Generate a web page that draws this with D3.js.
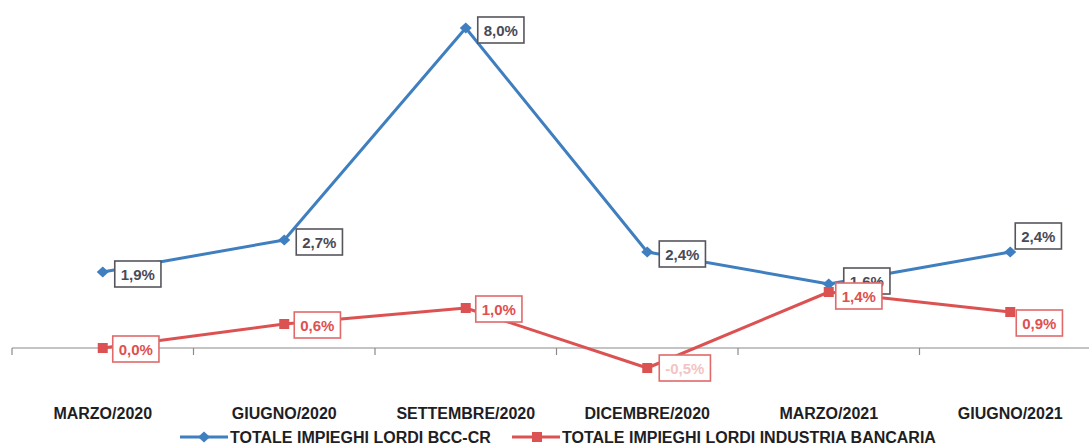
<!DOCTYPE html>
<html><head><meta charset="utf-8">
<script src="https://cdn.jsdelivr.net/npm/d3@7/dist/d3.min.js"></script>
<style>
html,body{margin:0;padding:0;background:#fff;}
svg{display:block;}
text{font-family:"Liberation Sans",Arial,sans-serif;font-weight:bold;}
</style></head>
<body>
<svg id="c" width="1089" height="448"></svg>
<script>
const categories = ["MARZO/2020","GIUGNO/2020","SETTEMBRE/2020","DICEMBRE/2020","MARZO/2021","GIUGNO/2021"];
const bccValues = [1.9, 2.7, 8.0, 2.4, 1.6, 2.4];
const industriaValues = [0.0, 0.6, 1.0, -0.5, 1.4, 0.9];
const seriesNames = ["TOTALE IMPIEGHI LORDI BCC-CR", "TOTALE IMPIEGHI LORDI INDUSTRIA BANCARIA"];

const fmt = v => v.toFixed(1).replace(".", ",") + "%";
const svg = d3.select("#c");
const W = 1089;

const x = d3.scaleBand().domain(categories).range([12, 1101]).padding(0);
const cx = c => x(c) + x.bandwidth() / 2;
const y = d3.scaleLinear().domain([-1, 8.5]).range([388, 8]);

const blue = "#3f7fbf", red = "#dc5252";

// axis line at zero
const y0 = y(0);
svg.append("line").attr("x1", 12).attr("x2", W).attr("y1", y0).attr("y2", y0)
  .attr("stroke", "#8a8a8a").attr("stroke-width", 1.2);
categories.forEach(c => {
  svg.append("line").attr("x1", x(c)).attr("x2", x(c)).attr("y1", y0).attr("y2", y0 + 7)
    .attr("stroke", "#8a8a8a").attr("stroke-width", 1.2);
});

// category labels
svg.selectAll("text.cat").data(categories).enter().append("text")
  .attr("class", "cat").attr("x", d => cx(d)).attr("y", 419)
  .attr("text-anchor", "middle").attr("font-size", 16).attr("fill", "#1e1e24")
  .text(d => d);

const line = d3.line().x((d, i) => cx(categories[i])).y(d => y(d));

// blue line
svg.append("path").datum(bccValues).attr("d", line).attr("fill", "none")
  .attr("stroke", blue).attr("stroke-width", 3).attr("stroke-linejoin", "round");
// red line
svg.append("path").datum(industriaValues).attr("d", line).attr("fill", "none")
  .attr("stroke", red).attr("stroke-width", 3).attr("stroke-linejoin", "round");

// markers
const diamond = "M0,-5.5L6,0L0,5.5L-6,0Z";
svg.selectAll("path.bm").data(bccValues).enter().append("path").attr("class", "bm")
  .attr("d", diamond).attr("fill", blue)
  .attr("transform", (d, i) => `translate(${cx(categories[i])},${y(d)})`);
svg.selectAll("rect.rm").data(industriaValues).enter().append("rect").attr("class", "rm")
  .attr("width", 10).attr("height", 10).attr("fill", red)
  .attr("x", (d, i) => cx(categories[i]) - 5).attr("y", d => y(d) - 5);

// data labels
function drawLabels(values, stroke, textFill, place) {
  values.forEach((v, i) => {
    const px = cx(categories[i]), py = y(v);
    const p = place(i);
    const g = svg.append("g");
    const t = g.append("text").attr("font-size", 15).attr("fill", p.fill || textFill).text(fmt(v));
    const bw = t.node().getComputedTextLength() + 12;
    const bh = 26;
    const left = px + p.dx, cy = py + p.dy;
    g.insert("rect", "text").attr("x", left).attr("y", cy - bh / 2).attr("width", bw).attr("height", bh)
      .attr("fill", "#fff").attr("stroke", stroke).attr("stroke-width", 1.6);
    t.attr("x", left + 6).attr("y", cy + 5.5);
  });
}
const nB = bccValues.length;
drawLabels(bccValues, "#55555c", "#4a4a56", i => i === nB - 1 ? {dx: 5, dy: -16} : (i === 4 ? {dx: 15, dy: -3} : {dx: 12, dy: 2}));
drawLabels(industriaValues, "#e06a6a", "#e05050", i => {
  if (i === 3) return {dx: 12, dy: 0, fill: "#f3c4c4"};
  if (i === industriaValues.length - 1) return {dx: 6, dy: 11};
  if (i === 4) return {dx: 7, dy: 4};
  return {dx: 10, dy: 1};
});

// legend
const ly = 437;
svg.append("line").attr("x1", 180).attr("x2", 228).attr("y1", ly).attr("y2", ly).attr("stroke", blue).attr("stroke-width", 3);
svg.append("path").attr("d", diamond).attr("fill", blue).attr("transform", `translate(204,${ly})`);
svg.append("text").attr("x", 230).attr("y", ly + 6).attr("font-size", 16).attr("fill", "#1e1e24").text(seriesNames[0]);
svg.append("line").attr("x1", 512).attr("x2", 560).attr("y1", ly).attr("y2", ly).attr("stroke", red).attr("stroke-width", 3);
svg.append("rect").attr("x", 532).attr("y", ly - 5).attr("width", 10).attr("height", 10).attr("fill", red);
svg.append("text").attr("x", 562).attr("y", ly + 6).attr("font-size", 16).attr("fill", "#1e1e24").text(seriesNames[1]);
</script>
</body></html>
